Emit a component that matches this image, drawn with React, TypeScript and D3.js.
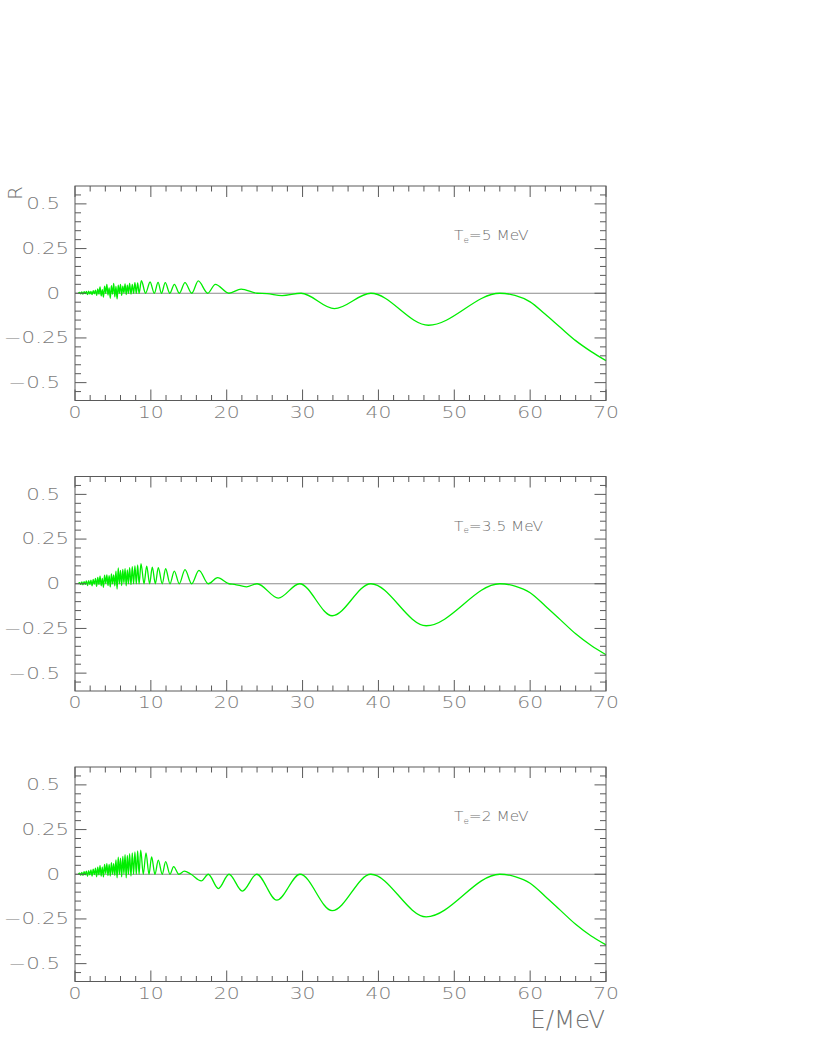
import React, { useRef, useEffect } from "react";
import * as d3 from "d3";

type Pt = [number, number];

// [E in MeV, R] (peaks, troughs and the jagged low-E part)
const curveTe5: Pt[] = [
  [0.45, 0], [0.6, 0.005], [0.75, -0.003], [0.9, 0.007], [1.05, -0.005], [1.2, 0.009],
  [1.35, -0.002], [1.5, 0.01], [1.65, -0.007], [1.8, 0.012], [1.95, -0.004], [2.1, 0.01],
  [2.25, -0.008], [2.4, 0.015], [2.55, -0.003], [2.7, 0.018], [2.85, -0.012], [3.0, 0.025],
  [3.15, -0.005], [3.3, 0.035], [3.45, -0.015], [3.6, 0.02], [3.75, -0.022], [3.9, 0.04],
  [4.05, 0.0], [4.2, 0.05], [4.35, -0.01], [4.5, 0.03], [4.65, -0.028], [4.8, 0.042],
  [4.95, -0.005], [5.1, 0.055], [5.25, -0.02], [5.4, 0.038], [5.55, -0.032], [5.7, 0.045],
  [5.85, 0.0], [6.0, 0.05], [6.15, -0.012], [6.3, 0.04], [6.45, 0.002], [6.6, 0.052],
  [6.75, -0.008], [6.9, 0.045], [7.05, 0.0], [7.2, 0.055], [7.38, -0.005], [7.55, 0.05],
  [7.72, 0.0], [7.9, 0.06], [8.08, 0.0], [8.26, 0.058], [8.45, 0.0],
  [8.75, 0.07], [9.3, 0.0], [9.9, 0.063], [10.45, 0.0], [10.95, 0.061], [11.4, 0.0],
  [11.9, 0.059], [12.5, 0.0], [13.1, 0.05], [13.75, 0.0], [14.5, 0.059], [15.4, 0.0],
  [16.25, 0.069], [17.5, 0.0], [18.5, 0.05], [20.3, 0.0], [21.9, 0.023], [24.0, 0.0],
  [25.3, -0.002], [27.3, -0.013], [29.8, 0.0], [34.2, -0.086], [39.0, 0.0],
  [46.6, -0.179], [56.0, 0.0], [58, -0.012], [60, -0.048], [62, -0.118], [64, -0.192],
  [66, -0.265], [68, -0.325], [70, -0.377],
];

const curveTe35: Pt[] = [
  [0.45, 0], [0.6, 0.006], [0.75, -0.004], [0.9, 0.01], [1.05, -0.006], [1.2, 0.012],
  [1.35, -0.003], [1.5, 0.016], [1.65, -0.01], [1.8, 0.018], [1.95, -0.004], [2.1, 0.02],
  [2.25, -0.012], [2.4, 0.024], [2.55, -0.002], [2.7, 0.03], [2.85, -0.015], [3.0, 0.035],
  [3.15, -0.004], [3.3, 0.042], [3.45, -0.012], [3.6, 0.03], [3.75, -0.02], [3.9, 0.048],
  [4.05, 0.002], [4.2, 0.05], [4.35, -0.01], [4.5, 0.045], [4.65, -0.018], [4.8, 0.055],
  [4.95, 0.0], [5.1, 0.05], [5.25, -0.012], [5.4, 0.07], [5.55, -0.03], [5.7, 0.088],
  [5.85, 0.0], [6.0, 0.075], [6.15, -0.01], [6.3, 0.08], [6.45, 0.005], [6.6, 0.085],
  [6.75, -0.012], [6.9, 0.078], [7.05, 0.0], [7.2, 0.09], [7.38, -0.005], [7.55, 0.095],
  [7.72, 0.0], [7.9, 0.1], [8.08, 0.0], [8.26, 0.105], [8.45, 0.0],
  [8.7, 0.112], [9.1, 0.0], [9.45, 0.099], [9.84, 0.0], [10.19, 0.093], [10.59, 0.0],
  [10.98, 0.09], [11.5, 0.0], [11.95, 0.084], [12.52, 0.0], [13.09, 0.071], [13.75, 0.0],
  [14.5, 0.079], [15.38, 0.0], [16.34, 0.075], [17.57, 0.0], [18.8, 0.034], [20.3, 0.0],
  [21.0, -0.003], [22.6, -0.017], [24.0, 0.0], [26.8, -0.08], [29.6, 0.0],
  [33.9, -0.179], [39.0, 0.0], [46.3, -0.235], [56.0, 0.0], [58, -0.013], [60, -0.05],
  [62, -0.124], [64, -0.202], [66, -0.28], [68, -0.344], [70, -0.397],
];

const curveTe2: Pt[] = [
  [0.45, 0], [0.6, 0.006], [0.75, -0.005], [0.9, 0.011], [1.05, -0.006], [1.2, 0.014],
  [1.35, -0.003], [1.5, 0.018], [1.65, -0.012], [1.8, 0.02], [1.95, -0.004], [2.1, 0.024],
  [2.25, -0.01], [2.4, 0.028], [2.55, -0.002], [2.7, 0.034], [2.85, -0.014], [3.0, 0.04],
  [3.15, -0.004], [3.3, 0.048], [3.45, -0.01], [3.6, 0.04], [3.75, -0.015], [3.9, 0.055],
  [4.05, 0.004], [4.2, 0.06], [4.35, -0.008], [4.5, 0.055], [4.65, -0.01], [4.8, 0.065],
  [4.95, 0.0], [5.1, 0.06], [5.25, -0.006], [5.4, 0.08], [5.55, -0.02], [5.7, 0.095],
  [5.85, 0.0], [6.0, 0.09], [6.15, -0.015], [6.3, 0.1], [6.45, 0.002], [6.6, 0.11],
  [6.75, -0.02], [6.9, 0.105], [7.05, 0.0], [7.2, 0.115], [7.38, -0.01], [7.55, 0.12],
  [7.72, 0.0], [7.9, 0.125], [8.08, 0.0], [8.26, 0.13], [8.45, 0.0],
  [8.66, 0.135], [9.0, 0.0], [9.36, 0.12], [9.75, 0.0], [10.1, 0.097], [10.54, 0.0],
  [10.98, 0.079], [11.5, 0.0], [11.95, 0.071], [12.52, 0.0], [13.0, 0.043], [13.7, 0.0],
  [14.41, 0.018], [15.3, 0.0], [16.65, -0.037], [17.57, 0.0], [18.9, -0.08], [20.3, 0.0],
  [22.06, -0.094], [23.95, 0.0], [26.6, -0.145], [29.66, 0.0], [33.9, -0.204],
  [39.0, 0.0], [46.3, -0.238], [56.0, 0.0], [58, -0.013], [60, -0.05], [62, -0.124],
  [64, -0.202], [66, -0.28], [68, -0.344], [70, -0.395],
];

const curves = [curveTe5, curveTe35, curveTe2];
const panelLabels = ["5", "3.5", "2"];
const xTicks = [0, 10, 20, 30, 40, 50, 60, 70];
const yTicks = [-0.5, -0.25, 0, 0.25, 0.5];
const yTickLabels = ["\u22120.5", "\u22120.25", "0", "0.25", "0.5"];

const W = 817;
const H = 1058;
const left = 75;
const right = 606;
const panelTop = [186, 476.5, 767];
const panelH = 214.5;

const App = () => {
  const ref = useRef<SVGSVGElement>(null);

  useEffect(() => {
    const svg = d3.select(ref.current);
    svg.selectAll("*").remove();

    const font = "'DejaVu Sans', Verdana, sans-serif";
    const labelColor = "#7c7c7c";
    const titleColor = "#707070";
    const axisColor = "#5a5a5a";

    const x = d3.scaleLinear().domain([0, 70]).range([left, right]);
    const xMinor = d3.range(0, 71, 2).filter((v) => v % 10 !== 0);
    const yMinor = d3
      .range(-11, 12)
      .map((k) => k * 0.05)
      .filter((v) => Math.abs(v / 0.25 - Math.round(v / 0.25)) > 1e-6);

    curves.forEach((data, i) => {
      const top = panelTop[i];
      const bottom = top + panelH;
      const y = d3.scaleLinear().domain([-0.6, 0.6]).range([bottom, top]);
      const g = svg.append("g");

      // zero line
      g.append("line")
        .attr("x1", left)
        .attr("x2", right)
        .attr("y1", y(0))
        .attr("y2", y(0))
        .attr("stroke", "#8c8c8c")
        .attr("stroke-width", 1);

      const line = d3
        .line<Pt>()
        .x((d) => x(d[0]))
        .y((d) => y(d[1]))
        .curve(d3.curveMonotoneX);

      g.append("path")
        .datum(data)
        .attr("d", line)
        .attr("fill", "none")
        .attr("stroke", "#00ee00")
        .attr("stroke-width", 1.3);

      // frame
      g.append("rect")
        .attr("x", left)
        .attr("y", top)
        .attr("width", right - left)
        .attr("height", panelH)
        .attr("fill", "none")
        .attr("stroke", axisColor)
        .attr("stroke-width", 1);

      const ticks = g.append("g").attr("stroke", axisColor).attr("stroke-width", 1);

      // x ticks, bottom and top, pointing inwards
      const xt = [
        ...xTicks.map((v) => ({ v, len: 11 })),
        ...xMinor.map((v) => ({ v, len: 5.5 })),
      ];
      xt.forEach(({ v, len }) => {
        ticks.append("line").attr("x1", x(v)).attr("x2", x(v)).attr("y1", bottom).attr("y2", bottom - len);
        ticks.append("line").attr("x1", x(v)).attr("x2", x(v)).attr("y1", top).attr("y2", top + len);
      });

      // y ticks, left and right
      const yt = [
        ...yTicks.map((v) => ({ v, len: 11.5 })),
        ...yMinor.map((v) => ({ v, len: 6 })),
      ];
      yt.forEach(({ v, len }) => {
        ticks.append("line").attr("x1", left).attr("x2", left + len).attr("y1", y(v)).attr("y2", y(v));
        ticks.append("line").attr("x1", right).attr("x2", right - len).attr("y1", y(v)).attr("y2", y(v));
      });

      // y tick labels
      yTicks.forEach((v, k) => {
        const txt = yTickLabels[k];
        const dec = txt.split(".")[1];
        const endX = dec && dec.length === 2 ? left - 6 : left - 15;
        g.append("text")
          .attr("transform", `translate(${endX},${y(v) + 5.4}) scale(1.42,1)`)
          .attr("text-anchor", "end")
          .attr("font-family", font)
          .attr("font-size", 15)
          .attr("font-weight", 200)
          .attr("fill", labelColor)
          .text(txt);
      });

      // x tick labels
      xTicks.forEach((v) => {
        g.append("text")
          .attr("transform", `translate(${x(v)},${bottom + 17}) scale(1.35,1)`)
          .attr("text-anchor", "middle")
          .attr("font-family", font)
          .attr("font-size", 15)
          .attr("font-weight", 200)
          .attr("fill", labelColor)
          .text(String(v));
      });

      // panel annotation T_e = ...
      const ann = g
        .append("text")
        .attr("transform", `translate(454,${top + 54}) scale(1.1,1)`)
        .attr("font-family", font)
        .attr("font-size", 14)
        .attr("font-weight", 200)
        .attr("fill", titleColor);
      ann.append("tspan").text("T");
      ann.append("tspan").attr("font-size", 8).attr("dy", 2.5).text("e");
      ann.append("tspan").attr("dy", -2.5).text(`=${panelLabels[i]} MeV`);
    });

    // y title
    svg
      .append("text")
      .attr("transform", `translate(21.5,200) rotate(-90)`)
      .attr("font-family", font)
      .attr("font-size", 20)
      .attr("font-weight", 200)
      .attr("fill", titleColor)
      .text("R");

    // x title
    svg
      .append("text")
      .attr("x", 605)
      .attr("y", 1028)
      .attr("text-anchor", "end")
      .attr("font-family", font)
      .attr("font-size", 24.5)
      .attr("font-weight", 200)
      .attr("fill", titleColor)
      .text("E/MeV");
  }, []);

  return (
    <svg
      ref={ref}
      width={W}
      height={H}
      style={{ position: "absolute", left: 0, top: 0, background: "#fff" }}
    ></svg>
  );
};

export default App;
